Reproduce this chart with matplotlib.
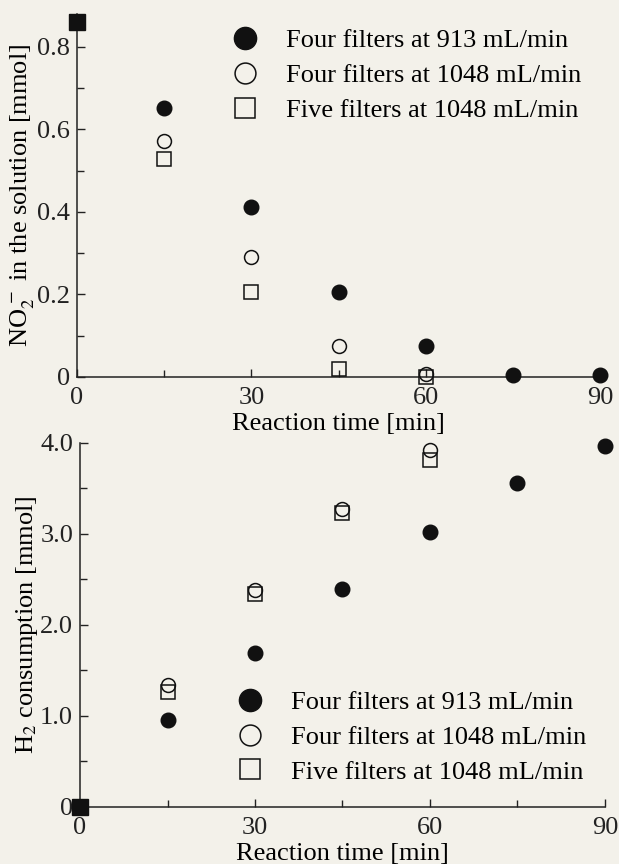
import matplotlib
matplotlib.use("Agg")
import matplotlib.pyplot as plt
from matplotlib.lines import Line2D
from matplotlib.ticker import MultipleLocator, FixedLocator

plt.rcParams['font.family'] = ['Liberation Serif', 'DejaVu Serif']
plt.rcParams['mathtext.fontset'] = 'stix'

# ---- data ----
labels = ["Four filters at 913 mL/min", "Four filters at 1048 mL/min", "Five filters at 1048 mL/min"]

t_913 = [0, 15, 30, 45, 60, 75, 90]
no2_913 = [0.86, 0.652, 0.413, 0.207, 0.076, 0.005, 0.005]
h2_913 = [0.0, 0.956, 1.69, 2.40, 3.02, 3.56, 3.97]

t_1048_4 = [0, 15, 30, 45, 60]
no2_1048_4 = [0.86, 0.573, 0.292, 0.076, 0.007]
h2_1048_4 = [0.0, 1.34, 2.38, 3.27, 3.92]

t_1048_5 = [0, 15, 30, 45, 60]
no2_1048_5 = [0.86, 0.529, 0.207, 0.02, 0.0]
h2_1048_5 = [0.0, 1.26, 2.34, 3.23, 3.81]

x_ticks = [0, 30, 60, 90]
top_yticks = [0, 0.2, 0.4, 0.6, 0.8]
top_ylabels = ["0", "0.2", "0.4", "0.6", "0.8"]
bot_yticks = [0, 1.0, 2.0, 3.0, 4.0]
bot_ylabels = ["0", "1.0", "2.0", "3.0", "4.0"]

bg = '#f3f1ea'
fs = 19

fig = plt.figure(figsize=(6.19, 8.64), dpi=100, facecolor=bg)
ax1 = fig.add_axes([0.1244, 0.5637, 0.845, 0.4201])
ax2 = fig.add_axes([0.1293, 0.066, 0.848, 0.4213])

def style(ax, ylim, yticks, ylabels, yminor, ylabel, ylabelpad):
    ax.set_facecolor(bg)
    ax.patch.set_alpha(0)
    for s in ['top', 'right']:
        ax.spines[s].set_visible(False)
    for s in ['left', 'bottom']:
        ax.spines[s].set_linewidth(1.1)
        ax.spines[s].set_color('#222222')
    ax.set_xlim(0, 90)
    ax.set_ylim(*ylim)
    ax.xaxis.set_major_locator(FixedLocator(x_ticks))
    ax.xaxis.set_minor_locator(MultipleLocator(15))
    ax.set_xticklabels([str(v) for v in x_ticks], fontsize=fs)
    ax.yaxis.set_major_locator(FixedLocator(yticks))
    ax.yaxis.set_minor_locator(MultipleLocator(yminor))
    ax.set_yticklabels(ylabels, fontsize=fs)
    ax.tick_params(direction='in', which='major', length=6, width=1, colors='#222222')
    ax.tick_params(direction='in', which='minor', length=5, width=1, colors='#222222')
    ax.tick_params(axis='y', which='major', pad=5)
    ax.tick_params(axis='x', which='major', pad=7)
    ax.set_xlabel("Reaction time [min]", fontsize=fs, labelpad=3)
    ax.set_ylabel(ylabel, fontsize=fs, labelpad=ylabelpad)

def plot_series(ax, yv913, yv4, yv5):
    ax.plot(t_1048_5, yv5, ls='none', marker='s', ms=9.5, mfc='none', mec='#111111', mew=1.1, clip_on=False, zorder=3)
    ax.plot(t_1048_4, yv4, ls='none', marker='o', ms=10, mfc='none', mec='#111111', mew=1.1, clip_on=False, zorder=4)
    ax.plot(t_913, yv913, ls='none', marker='o', ms=10.5, mfc='#111111', mec='#111111', clip_on=False, zorder=5)
    # start point drawn as filled square (overlapping markers)
    ax.plot([t_913[0]], [yv913[0]], ls='none', marker='s', ms=11, mfc='#111111', mec='#111111', clip_on=False, zorder=6)

style(ax1, (0, 0.88), top_yticks, top_ylabels, 0.1, r"NO$_2^{\,-}$ in the solution [mmol]", 0)
style(ax2, (0, 4.0), bot_yticks, bot_ylabels, 0.5, r"H$_2$ consumption [mmol]", 0)
plot_series(ax1, no2_913, no2_1048_4, no2_1048_5)
plot_series(ax2, h2_913, h2_1048_4, h2_1048_5)

handles = [
    Line2D([], [], ls='none', marker='o', ms=16, mfc='#111111', mec='#111111'),
    Line2D([], [], ls='none', marker='o', ms=15, mfc='none', mec='#111111', mew=1.1),
    Line2D([], [], ls='none', marker='s', ms=14, mfc='none', mec='#111111', mew=1.1),
]
for ax, anchor in [(ax1, (0.296, 0.959)), (ax2, (0.299, 0.32))]:
    ax.legend(handles, labels, loc='upper left', bbox_to_anchor=anchor, frameon=False,
              fontsize=fs, handlelength=1.0, handletextpad=1.05, labelspacing=0.43,
              borderaxespad=0, borderpad=0)

fig.savefig("out.png", dpi=100, facecolor=bg)
